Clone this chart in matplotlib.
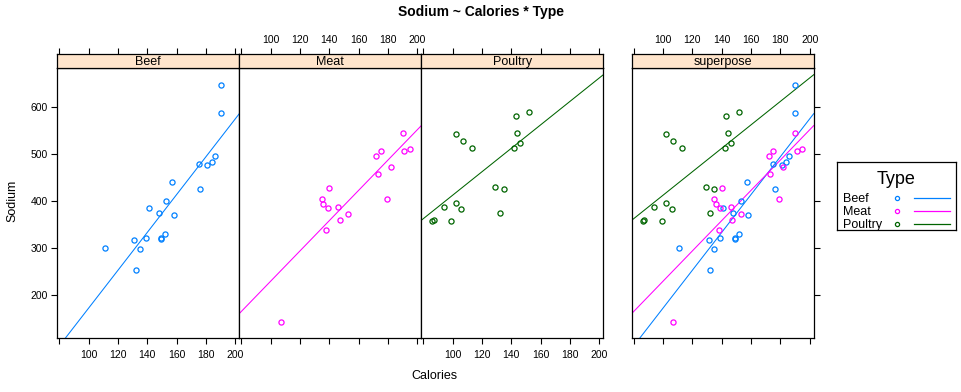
import numpy as np
import matplotlib
matplotlib.use("Agg")
import matplotlib.pyplot as plt

plt.rcParams['font.family'] = ['Liberation Sans', 'DejaVu Sans']

# ---- data (hot dogs) ----
beef_cal = [186, 181, 176, 149, 184, 190, 158, 139, 175, 148, 152, 111, 141, 153, 190, 157, 131, 149, 135, 132]
beef_sod = [495, 477, 425, 322, 482, 587, 370, 322, 479, 375, 330, 300, 386, 401, 645, 440, 317, 319, 298, 253]
meat_cal = [173, 191, 182, 190, 172, 147, 146, 139, 175, 136, 179, 153, 107, 195, 135, 140, 138]
meat_sod = [458, 506, 473, 545, 496, 360, 387, 386, 507, 393, 405, 372, 144, 511, 405, 428, 339]
poul_cal = [129, 132, 102, 106, 94, 102, 87, 99, 107, 113, 135, 142, 86, 143, 152, 146, 144]
poul_sod = [430, 375, 396, 383, 387, 542, 359, 357, 528, 513, 426, 513, 358, 581, 588, 522, 545]

types = ["Beef", "Meat", "Poultry"]
colors = ["#0080ff", "#ff00ff", "#006400"]
groups = [(beef_cal, beef_sod), (meat_cal, meat_sod), (poul_cal, poul_sod)]
panel_names = ["Beef", "Meat", "Poultry", "superpose"]
xticks = [80, 100, 120, 140, 160, 180, 200]
xticklabels = ["", "100", "120", "140", "160", "180", "200"]
yticks = [200, 300, 400, 500, 600]

W, H = 962, 392
fig = plt.figure(figsize=(W / 100, H / 100), dpi=100)

XLIM = (78.6, 202.7)
YLIM = (108.8, 681.4)

def fr(x0, y0, x1, y1):
    return [x0 / W, 1 - y1 / H, (x1 - x0) / W, (y1 - y0) / H]

lefts = [57.3, 239.3, 421.3, 631.7]
pw = 182.0
ptop, pbot = 68.3, 338.3
stop = 54.0

tick_len = 4.2
tfs = 7.5

def draw_group(ax, cal, sod, col):
    c = np.array(cal, float)
    s = np.array(sod, float)
    ax.plot(c, s, linestyle='none', marker='o', markersize=3.7, markerfacecolor='none',
            markeredgecolor=col, markeredgewidth=0.9, zorder=3)
    b, a = np.polyfit(c, s, 1)
    xs = np.array(XLIM)
    ax.plot(xs, a + b * xs, color=col, lw=0.75, zorder=2)

for i, name in enumerate(panel_names):
    l = lefts[i]
    ax = fig.add_axes(fr(l, ptop, l + pw, pbot))
    ax.set_xlim(*XLIM)
    ax.set_ylim(*YLIM)
    if i < 3:
        draw_group(ax, *groups[i], colors[i])
    else:
        for g, col in zip(groups, colors):
            draw_group(ax, *g, col)
    for sp in ax.spines.values():
        sp.set_linewidth(0.9)
    ax.set_xticks(xticks)
    if i in (0, 2):
        ax.set_xticklabels(xticklabels)
    else:
        ax.set_xticklabels([""] * len(xticks))
    ax.tick_params(axis='x', direction='out', length=tick_len, width=0.8, labelsize=tfs, pad=4)
    ax.set_yticks(yticks)
    if i == 0:
        ax.set_yticklabels([str(v) for v in yticks])
        ax.tick_params(axis='y', left=True, right=False, direction='out', length=tick_len,
                       width=0.8, labelsize=tfs, pad=2.5)
    elif i == 3:
        ax.tick_params(axis='y', left=False, right=True, labelleft=False, direction='out',
                       length=tick_len, width=0.8)
    else:
        ax.tick_params(axis='y', left=False, right=False, labelleft=False)

    # strip
    sax = fig.add_axes(fr(l, stop, l + pw, ptop))
    sax.set_xlim(*XLIM)
    sax.set_ylim(0, 1)
    sax.set_facecolor("#ffe5cc")
    for sp in sax.spines.values():
        sp.set_linewidth(0.9)
    sax.text(0.5, 0.45, name, transform=sax.transAxes, ha='center', va='center', fontsize=9)
    sax.set_yticks([])
    sax.xaxis.tick_top()
    sax.set_xticks(xticks)
    if i in (1, 3):
        sax.set_xticklabels(xticklabels)
    else:
        sax.set_xticklabels([""] * len(xticks))
    sax.tick_params(axis='x', top=True, bottom=False, direction='out', length=tick_len,
                    width=0.8, labelsize=tfs, pad=2.5)

fig.text(481 / W, 1 - 12 / H, "Sodium ~ Calories * Type", ha='center', va='center',
         fontsize=10, fontweight='bold')
fig.text(434 / W, 1 - 376 / H, "Calories", ha='center', va='center', fontsize=9)
fig.text(12.5 / W, 1 - 201 / H, "Sodium", ha='center', va='center', fontsize=9, rotation=90)

# legend
lax = fig.add_axes(fr(836.7, 162.3, 956, 230))
lax.set_xlim(836.7, 956)
lax.set_ylim(230, 162.3)
lax.set_xticks([])
lax.set_yticks([])
for sp in lax.spines.values():
    sp.set_linewidth(0.9)
lax.text(896, 179.5, "Type", ha='center', va='center', fontsize=13)
for k, (t, col) in enumerate(zip(types, colors)):
    yy = 199 + k * 13
    lax.text(843.3, yy, t, ha='left', va='center', fontsize=9)
    lax.plot([897], [yy - 1.5], marker='o', markersize=3.0, markerfacecolor='none',
             markeredgecolor=col, markeredgewidth=0.9, clip_on=False)
    lax.plot([914, 950], [yy - 1.5, yy - 1.5], color=col, lw=0.9, clip_on=False)

fig.savefig("out.png", dpi=100)
